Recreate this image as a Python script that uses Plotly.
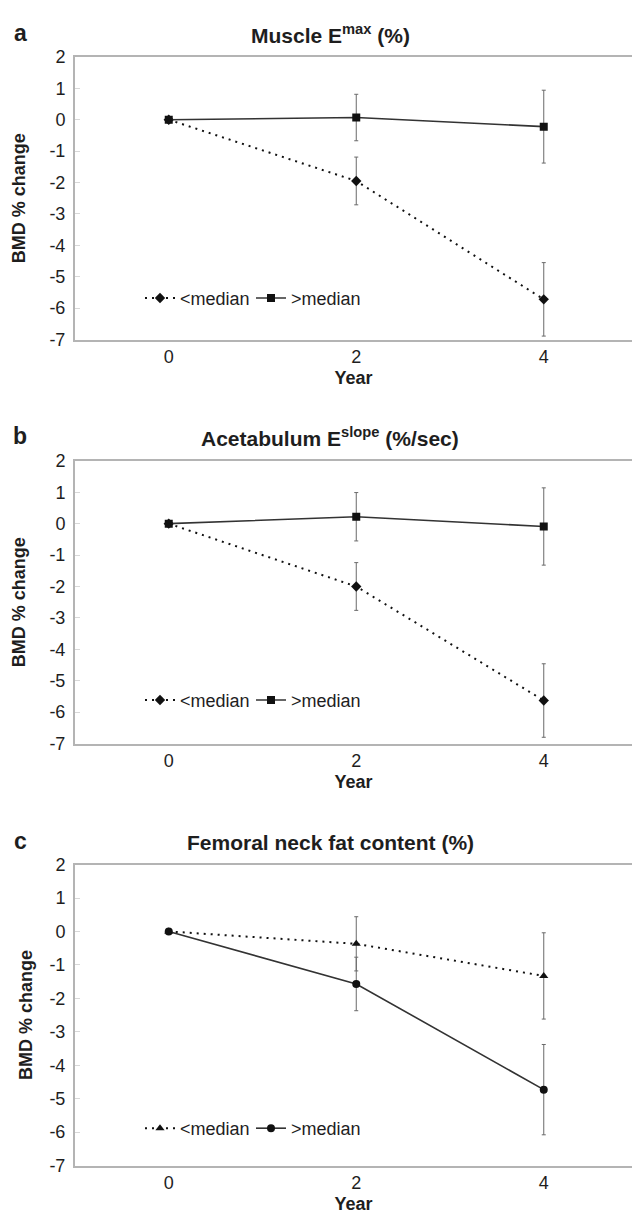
import plotly.graph_objects as go

# ---------------- data ----------------
YEARS = [0, 2, 4]
Y_TICKS = [2, 1, 0, -1, -2, -3, -4, -5, -6, -7]
Y_TICK_TEXT = ["2", "1", "0", "-1", "-2", "-3", "-4", "-5", "-6", "-7"]
X_TICKS = [0, 2, 4]

PANEL_LETTERS = ["a", "b", "c"]
PANEL_TITLES = ["Muscle E<sup>max</sup> (%)",
                "Acetabulum E<sup>slope</sup> (%/sec)",
                "Femoral neck fat content (%)"]
SERIES_NAMES = ["<median", ">median"]

A_LOW = [0, -1.95, -5.72]
A_LOW_ERR = [0, 0.76, 1.17]
A_HIGH = [0, 0.07, -0.22]
A_HIGH_ERR = [0, 0.74, 1.16]

B_LOW = [0, -2.00, -5.63]
B_LOW_ERR = [0, 0.76, 1.17]
B_HIGH = [0, 0.22, -0.09]
B_HIGH_ERR = [0, 0.77, 1.23]

C_LOW = [0, -0.37, -1.33]
C_LOW_ERR = [0, 0.81, 1.29]
C_HIGH = [0, -1.57, -4.73]
C_HIGH_ERR = [0, 0.80, 1.35]

# ---------------- layout constants ----------------
W, H = 632, 1228
ML = 75
FONT = "Liberation Sans, Arial, sans-serif"
TXT = "#1e1e1e"
AXC = "#b4b4b4"

PANEL_PX = [(47.7, 335.0), (458.3, 745.7), (868.7, 1174.7)]
TITLE_Y = [24, 434, 846]
LEG_Y = [293, 701.7, 1137]
YTITLE_STANDOFF = [19, 19, 12]

LOW_MARKERS = ["diamond", "diamond", "triangle-up"]
HIGH_MARKERS = ["square", "square", "circle"]
LOW_SIZES = [8, 8, 8]
HIGH_SIZES = [8, 8, 8]

low_data = [(A_LOW, A_LOW_ERR), (B_LOW, B_LOW_ERR), (C_LOW, C_LOW_ERR)]
high_data = [(A_HIGH, A_HIGH_ERR), (B_HIGH, B_HIGH_ERR), (C_HIGH, C_HIGH_ERR)]


def py(p):
    return 1 - p / H


def px_x(p):
    return (p - ML) / (W - ML)


fig = go.Figure()
xrange = [-1, -1 + (W - ML) / 93.75]
annotations = []
layout = {}

for i in range(3):
    sfx = "" if i == 0 else str(i + 1)
    xa, ya = "x" + sfx, "y" + sfx
    leg = "legend" + sfx
    (lv, le), (hv, he) = low_data[i], high_data[i]
    fig.add_trace(go.Scatter(
        x=YEARS, y=lv, name=SERIES_NAMES[0], xaxis=xa, yaxis=ya, legend=leg,
        mode="lines+markers",
        line=dict(color="#111111", width=2, dash="2px,5px"),
        marker=dict(symbol=LOW_MARKERS[i], size=LOW_SIZES[i], color="#111111"),
        error_y=dict(type="data", array=le, color="#6a6a6a", thickness=1, width=2),
    ))
    fig.add_trace(go.Scatter(
        x=YEARS, y=hv, name=SERIES_NAMES[1], xaxis=xa, yaxis=ya, legend=leg,
        mode="lines+markers",
        line=dict(color="#333333", width=1.6),
        marker=dict(symbol=HIGH_MARKERS[i], size=HIGH_SIZES[i], color="#111111"),
        error_y=dict(type="data", array=he, color="#6a6a6a", thickness=1, width=2),
    ))
    top, bot = PANEL_PX[i]
    layout["xaxis" + sfx] = dict(
        domain=[0, 1], anchor=ya, range=xrange, tickvals=X_TICKS,
        ticktext=[str(v) for v in X_TICKS],
        showline=True, linecolor=AXC, linewidth=2, mirror=True,
        showgrid=False, zeroline=False, ticks="",
        tickfont=dict(family=FONT, size=18, color=TXT),
        title=dict(text="<b>Year</b>", font=dict(family=FONT, size=18, color=TXT), standoff=5),
    )
    layout["yaxis" + sfx] = dict(
        domain=[py(bot), py(top)], anchor=xa, range=[-7, 2],
        tickvals=Y_TICKS, ticktext=Y_TICK_TEXT,
        showline=True, linecolor=AXC, linewidth=2, mirror=False,
        showgrid=False, zeroline=False, ticks="inside", ticklen=5,
        tickcolor="#d8d8d8", ticklabelstandoff=4,
        tickfont=dict(family=FONT, size=18, color=TXT),
        title=dict(text="<b>BMD % change</b>", font=dict(family=FONT, size=18, color=TXT),
                   standoff=YTITLE_STANDOFF[i]),
    )
    layout[leg] = dict(
        orientation="h", x=px_x(140), y=py(LEG_Y[i]), xanchor="left", yanchor="middle",
        xref="paper", yref="paper",
        font=dict(family=FONT, size=18, color=TXT), bgcolor="rgba(0,0,0,0)",
        itemwidth=30, entrywidth=66, tracegroupgap=0,
    )
    annotations.append(dict(
        text="<b>" + PANEL_TITLES[i] + "</b>", x=px_x(330), y=py(TITLE_Y[i]),
        xref="paper", yref="paper", showarrow=False, xanchor="center", yanchor="middle",
        font=dict(family=FONT, size=21, color=TXT),
    ))
    annotations.append(dict(
        text="<b>" + PANEL_LETTERS[i] + "</b>", x=px_x(20), y=py(TITLE_Y[i] - 1),
        xref="paper", yref="paper", showarrow=False, xanchor="center", yanchor="middle",
        font=dict(family=FONT, size=23, color=TXT),
    ))

fig.update_layout(
    width=W, height=H,
    margin=dict(l=ML, r=0, t=0, b=0),
    paper_bgcolor="white", plot_bgcolor="white",
    showlegend=True,
    annotations=annotations,
    **layout,
)

fig.write_html("out.html")
